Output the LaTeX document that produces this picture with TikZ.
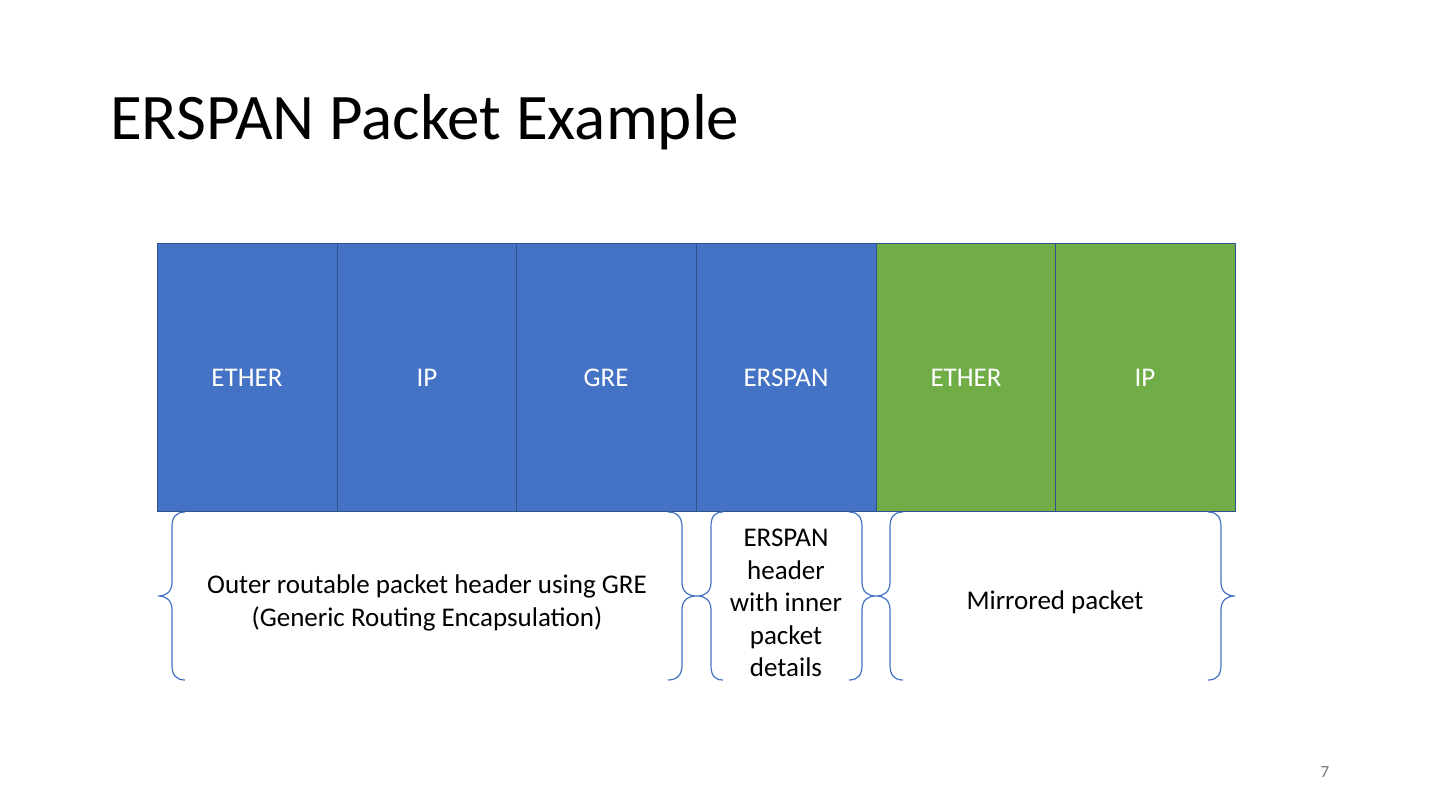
\documentclass[tikz,border=0pt]{standalone}
\usepackage{fontspec}
\setmainfont{Carlito}
\definecolor{pblue}{HTML}{4472C4}
\definecolor{pgreen}{HTML}{70AD47}
\definecolor{pborder}{HTML}{2F528F}
\definecolor{pnum}{HTML}{757575}
\begin{document}
\begin{tikzpicture}[x=1pt,y=-1pt,
  box/.style={draw=pborder,line width=1pt,minimum width=180pt,minimum height=267pt,inner sep=0pt,text=white,font=\fontsize{27}{32}\selectfont},
  lbl/.style={align=center,inner sep=0pt,font=\fontsize{27}{32.5}\selectfont},
  brace/.style={draw=pblue,line width=1.2pt}]
\useasboundingbox (0,0) rectangle (1440,810);
\fill[white] (0,0) rectangle (1440,810);
\node[anchor=base west,inner sep=0pt,font=\fontsize{65}{78}\selectfont] (title) at (110,140) {ERSPAN Packet Example};
\node[box,fill=pblue] (b1) at (247,377.5) {ETHER};
\node[box,fill=pblue] (b2) at (427,377.5) {IP};
\node[box,fill=pblue] (b3) at (606,377.5) {GRE};
\node[box,fill=pblue] (b4) at (786,377.5) {ERSPAN};
\node[box,fill=pgreen] (b5) at (966,377.5) {ETHER};
\node[box,fill=pgreen] (b6) at (1145,377.5) {IP};
% braces
\draw[brace] (185,512) .. controls (176,512) and (172,517) .. (172,527) -- (172,582) .. controls (172,592) and (166,596) .. (158,596)
  .. controls (166,596) and (172,600) .. (172,610) -- (172,665) .. controls (172,675) and (176,680) .. (185,680);
\draw[brace] (668,512) .. controls (677,512) and (682,517) .. (682,527) -- (682,582) .. controls (682,592) and (688,596) .. (697,596)
  .. controls (688,596) and (682,600) .. (682,610) -- (682,665) .. controls (682,675) and (677,680) .. (668,680);
\draw[brace] (723,512) .. controls (714,512) and (711,517) .. (711,527) -- (711,582) .. controls (711,592) and (705,596) .. (697,596)
  .. controls (705,596) and (711,600) .. (711,610) -- (711,665) .. controls (711,675) and (714,680) .. (723,680);
\draw[brace] (849,512) .. controls (858,512) and (862,517) .. (862,527) -- (862,582) .. controls (862,592) and (868,596) .. (876,596)
  .. controls (868,596) and (862,600) .. (862,610) -- (862,665) .. controls (862,675) and (858,680) .. (849,680);
\draw[brace] (903,512) .. controls (894,512) and (890,517) .. (890,527) -- (890,582) .. controls (890,592) and (884,596) .. (876,596)
  .. controls (884,596) and (890,600) .. (890,610) -- (890,665) .. controls (890,675) and (894,680) .. (903,680);
\draw[brace] (1208,512) .. controls (1217,512) and (1221,517) .. (1221,527) -- (1221,582) .. controls (1221,592) and (1227,596) .. (1235,596)
  .. controls (1227,596) and (1221,600) .. (1221,610) -- (1221,665) .. controls (1221,675) and (1217,680) .. (1208,680);
\node[lbl] (t1) at (427,603) {Outer routable packet header using GRE\\(Generic Routing Encapsulation)};
\node[lbl] (t2) at (786,603) {ERSPAN\\header\\with inner\\packet\\details};
\node[lbl] (t3) at (1055,602) {Mirrored packet};
\node[anchor=base,inner sep=0pt,text=pnum,font=\fontsize{17}{20}\selectfont] (pg) at (1325,777) {7};
\end{tikzpicture}
\end{document}
